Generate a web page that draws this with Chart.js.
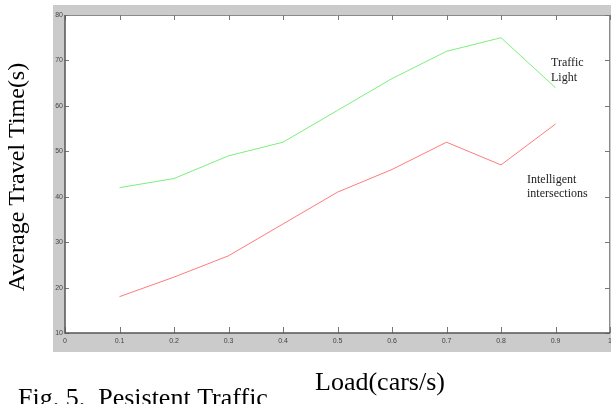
<!DOCTYPE html>
<html>
<head>
<meta charset="utf-8">
<script src="https://cdn.jsdelivr.net/npm/chart.js@4.4.1/dist/chart.umd.min.js"></script>
<style>
  html, body { margin: 0; padding: 0; background: #fff; }
  #wrap { width: 611px; height: 404px; position: relative; overflow: hidden; }
</style>
</head>
<body>
<div id="wrap"><canvas id="travelChart" width="611" height="404"></canvas></div>
<script>
// Load (cars/s) vs average travel time
const loads = [0.1, 0.2, 0.3, 0.4, 0.5, 0.6, 0.7, 0.8, 0.9];
const trafficLight = [42, 44, 49, 52, 59, 66, 72, 75, 64];
const intelligent = [18, 22.3, 27, 34, 41, 46, 52, 47, 56];
const xTicks = [0, 0.1, 0.2, 0.3, 0.4, 0.5, 0.6, 0.7, 0.8, 0.9, 1];
const yTicks = [10, 20, 30, 40, 50, 60, 70, 80];

function toPoints(xs, ys) {
  return xs.map((x, i) => ({ x: x, y: ys[i] }));
}

// gray frame, white plot area, inward tick marks, free text
const framePlugin = {
  id: "frame",
  beforeDraw(chart) {
    const ctx = chart.ctx;
    const a = chart.chartArea;
    ctx.save();
    ctx.fillStyle = "#cbcbcb";
    ctx.fillRect(53, 5, 558, 347);
    ctx.fillStyle = "#fff";
    ctx.fillRect(a.left, a.top, a.right - a.left, a.bottom - a.top);
    ctx.restore();
  },
  afterDraw(chart) {
    const ctx = chart.ctx;
    const a = chart.chartArea;
    const xs = chart.scales.x, ys = chart.scales.y;
    ctx.save();
    // top + right border
    ctx.strokeStyle = "#8a8a8a";
    ctx.lineWidth = 1;
    ctx.beginPath();
    ctx.moveTo(a.left, a.top + 0.5); ctx.lineTo(a.right, a.top + 0.5);
    ctx.moveTo(a.right - 0.5, a.top); ctx.lineTo(a.right - 0.5, a.bottom);
    ctx.stroke();
    // inward ticks
    ctx.strokeStyle = "#777";
    ctx.beginPath();
    xTicks.forEach(v => {
      const px = Math.round(xs.getPixelForValue(v)) + 0.5;
      ctx.moveTo(px, a.bottom); ctx.lineTo(px, a.bottom - 6);
      ctx.moveTo(px, a.top); ctx.lineTo(px, a.top + 5);
    });
    yTicks.forEach(v => {
      const py = Math.round(ys.getPixelForValue(v)) + 0.5;
      ctx.moveTo(a.left, py); ctx.lineTo(a.left + 4, py);
      ctx.moveTo(a.right, py); ctx.lineTo(a.right - 5, py);
    });
    ctx.stroke();
    // left + bottom axis lines
    ctx.strokeStyle = "#555";
    ctx.lineWidth = 1.5;
    ctx.beginPath();
    ctx.moveTo(a.left, a.top); ctx.lineTo(a.left, a.bottom);
    ctx.lineTo(a.right, a.bottom);
    ctx.stroke();

    // series labels
    ctx.fillStyle = "#222";
    ctx.font = "12px 'Liberation Serif'";
    ctx.textAlign = "left";
    ctx.fillText("Traffic", 551, 66);
    ctx.fillText("Light", 551, 81);
    ctx.fillText("Intelligent", 527, 183);
    ctx.fillText("intersections", 527, 197);

    // axis titles
    ctx.fillStyle = "#000";
    ctx.font = "24px 'Liberation Serif'";
    ctx.save();
    ctx.translate(24, 177);
    ctx.rotate(-Math.PI / 2);
    ctx.textAlign = "center";
    ctx.fillText("Average Travel Time(s)", 0, 0);
    ctx.restore();
    ctx.font = "26px 'Liberation Serif'";
    ctx.textAlign = "center";
    ctx.fillText("Load(cars/s)", 380, 390);
    ctx.textAlign = "left";
    ctx.fillText("Fig. 5.  Pesistent Traffic", 18, 406);
    ctx.restore();
  }
};

new Chart(document.getElementById("travelChart"), {
  type: "line",
  data: {
    datasets: [
      {
        label: "Traffic Light",
        data: toPoints(loads, trafficLight),
        borderColor: "#7cf07c",
        borderWidth: 1,
        pointRadius: 0,
        tension: 0,
        fill: false
      },
      {
        label: "Intelligent intersections",
        data: toPoints(loads, intelligent),
        borderColor: "#ff7b7b",
        borderWidth: 1,
        pointRadius: 0,
        tension: 0,
        fill: false
      }
    ]
  },
  options: {
    responsive: false,
    animation: false,
    layout: { padding: { left: 53, top: 15, right: 1, bottom: 52 } },
    plugins: {
      legend: { display: false },
      tooltip: { enabled: false }
    },
    scales: {
      x: {
        type: "linear",
        min: 0,
        max: 1,
        afterBuildTicks: s => { s.ticks = xTicks.map(v => ({ value: v })); },
        afterFit: s => { s.height = 19; s.paddingLeft = 0; s.paddingRight = 0; },
        grid: { display: false, drawTicks: false },
        border: { display: false },
        ticks: {
          color: "#444",
          font: { size: 7, family: "'Liberation Sans'" },
          padding: 4,
          maxRotation: 0,
          autoSkip: false,
          callback: v => String(v)
        }
      },
      y: {
        min: 10,
        max: 80,
        afterBuildTicks: s => { s.ticks = yTicks.map(v => ({ value: v })); },
        afterFit: s => { s.width = 12; s.paddingTop = 0; s.paddingBottom = 0; },
        grid: { display: false, drawTicks: false },
        border: { display: false },
        ticks: {
          color: "#444",
          font: { size: 7, family: "'Liberation Sans'" },
          padding: 2,
          autoSkip: false
        }
      }
    }
  },
  plugins: [framePlugin]
});
</script>
</body>
</html>
